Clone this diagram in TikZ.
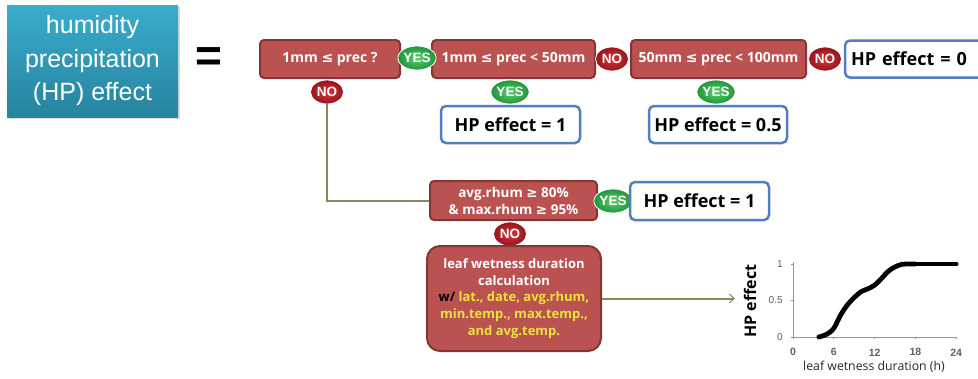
\documentclass[tikz,border=0pt]{standalone}
\usepackage{fontspec}
\setmainfont{Open Sans}
\newfontfamily\arialfont{Liberation Sans}
\newfontfamily\symfont{DejaVu Sans}
\newcommand{\lesign}{{\symfont ≤}}
\newcommand{\gesign}{{\symfont ≥}}
\usetikzlibrary{shapes.geometric,arrows.meta,shadows}

\definecolor{condred}{RGB}{185,82,80}
\definecolor{condedge}{RGB}{135,52,52}
\definecolor{resultedge}{RGB}{82,125,190}
\definecolor{yesinner}{RGB}{95,205,110}
\definecolor{yesouter}{RGB}{30,150,60}
\definecolor{noinner}{RGB}{215,55,60}
\definecolor{noouter}{RGB}{150,20,30}
\definecolor{linkolive}{RGB}{140,135,90}
\definecolor{inputyellow}{RGB}{238,226,60}
\definecolor{tealtop}{RGB}{58,172,205}
\definecolor{tealbottom}{RGB}{38,132,158}
\definecolor{axisgray}{RGB}{150,150,150}
\definecolor{ticktext}{RGB}{95,95,95}

\tikzset{
  cond/.style={draw=condedge, line width=2pt, fill=condred, rounded corners=4pt,
    text=white, font=\bfseries\fontsize{14}{17}\selectfont, align=center, inner sep=0pt},
  result/.style={draw=resultedge, line width=2.5pt, fill=white, rounded corners=5pt,
    font=\bfseries\fontsize{18}{20}\selectfont, inner sep=0pt},
  badge/.style={ellipse, minimum width=33pt, minimum height=24pt, inner sep=0pt,
    draw=white, line width=0.8pt, text=white,
    font=\arialfont\bfseries\fontsize{13.5}{14}\selectfont},
  yesbadge/.style={badge, inner color=yesinner, outer color=yesouter},
  nobadge/.style={badge, inner color=noinner, outer color=noouter},
  link/.style={draw=linkolive, line width=2pt},
  ticklabel/.style={font=\arialfont\bfseries\fontsize{10.5}{12}\selectfont, text=ticktext, inner sep=0pt},
}

\begin{document}
\begin{tikzpicture}[x=1pt,y=-1pt]
\useasboundingbox (0,0) rectangle (978,378);

% title block
\node[top color=tealtop, bottom color=tealbottom, minimum width=171pt, minimum height=112pt,
      inner sep=0pt, text=white, align=center,
      drop shadow={shadow xshift=2pt, shadow yshift=-2pt, opacity=0.3},
      font=\arialfont\fontsize{25}{33.5}\selectfont] (title) at (92.5,61)
      {humidity\\precipitation\\(HP) effect};
\node[font=\arialfont\bfseries\fontsize{46}{46}\selectfont, inner sep=0pt] (eq) at (208.5,60) {=};

% precipitation chain
\node[cond, minimum width=140pt, minimum height=38pt] (c1) at (330,59) {1mm \lesign{} prec ?};
\node[cond, minimum width=163pt, minimum height=38pt] (c2) at (513.5,59) {1mm \lesign{} prec < 50mm};
\node[cond, minimum width=175pt, minimum height=38pt] (c3) at (718.5,59) {50mm \lesign{} prec < 100mm};
\node[result, minimum width=150pt, minimum height=37pt, text width=138pt] (r0) at (920,59) {HP effect = 0};

\node[yesbadge] (y1) at (417,58) {YES};
\node[nobadge] (n2) at (612,59) {NO};
\node[nobadge] (n3) at (825,59) {NO};

\node[nobadge] (n1) at (327,92) {NO};
\node[yesbadge] (y2) at (510,92) {YES};
\node[yesbadge] (y3) at (716,92) {YES};

\node[result, minimum width=139pt, minimum height=37pt] (r1) at (510.5,124.5) {HP effect = 1};
\node[result, minimum width=138pt, minimum height=37pt] (r05) at (718,124.5) {HP effect = 0.5};

% relative humidity test
\node[cond, minimum width=167pt, minimum height=39pt, font=\bfseries\fontsize{13.5}{17}\selectfont] (c4) at (513.5,200.5)
  {avg.rhum \gesign{} 80\%\\\& max.rhum \gesign{} 95\%};
\node[yesbadge] (y4) at (613,201) {YES};
\node[result, minimum width=139pt, minimum height=38pt] (r1b) at (699.5,201) {HP effect = 1};
\node[nobadge] (n4) at (510,234) {NO};

% leaf wetness duration step
\node[cond, rounded corners=13pt, minimum width=174pt, minimum height=105pt,
      font=\bfseries\fontsize{13}{16.8}\selectfont] (c5) at (514,298.5)
  {leaf wetness duration\\calculation\\{\color{black}w/} {\color{inputyellow}lat., date, avg.rhum,}\\
   {\color{inputyellow}min.temp., max.temp.,}\\{\color{inputyellow}and avg.temp.}};

\draw[link] (n1.south) |- (c4.west);
\coordinate (plotin) at (735,299);
\draw[link, -{Straight Barb[length=5pt,width=9pt,line width=1pt]}] (c5.east) -- (c5.east -| plotin);

% HP effect versus leaf wetness duration
\begin{scope}[shift={(793,337)}, x=6.8pt, y=73pt]
  \draw[axisgray, line width=0.8pt] (0,0) -- (24.1,0);
  \draw[axisgray, line width=0.8pt] (0,0) -- (0,1.03);
  \foreach \h in {0,6,12,18,24} \draw[axisgray, line width=0.8pt] (\h,0) -- ++(0,-2pt);
  \foreach \v in {0,0.5,1} \draw[axisgray, line width=0.8pt] (0,\v) -- ++(-2pt,0);
  \draw[line width=4.8pt, line join=round, line cap=round] plot[smooth, tension=0.6] coordinates
    {(3.8,0) (5,0.04) (6,0.12) (7,0.3) (8,0.44) (9,0.54) (10,0.62) (11,0.66) (12,0.71)
     (13,0.8) (14,0.9) (15,0.96) (16,0.995) (17,1) (18,1)};
  \draw[line width=4.8pt, line cap=round] (18,1) -- (24,1);
  \foreach \h/\n in {0/xa,6/xb,12/xc,18/xd,24/xe}
    \node[ticklabel] (\n) at (\h,-0.21) {\h};
  \node[ticklabel, font=\arialfont\fontsize{10}{12}\selectfont, anchor=east] (ya) at (-1.5,1) {1};
  \node[ticklabel, font=\arialfont\fontsize{10}{12}\selectfont, anchor=east] (yb) at (-1.5,0.5) {0.5};
  \node[ticklabel, font=\arialfont\fontsize{10}{12}\selectfont, anchor=east] (yc) at (-1.5,0) {0};
\end{scope}
\node[rotate=90, font=\bfseries\fontsize{16}{18}\selectfont, inner sep=0pt] (ylab) at (750,301) {HP effect};
\node[font=\fontsize{12.3}{14}\selectfont, text=black!85, inner sep=0pt] (xlab) at (874,367) {leaf wetness duration (h)};
\end{tikzpicture}
\end{document}
